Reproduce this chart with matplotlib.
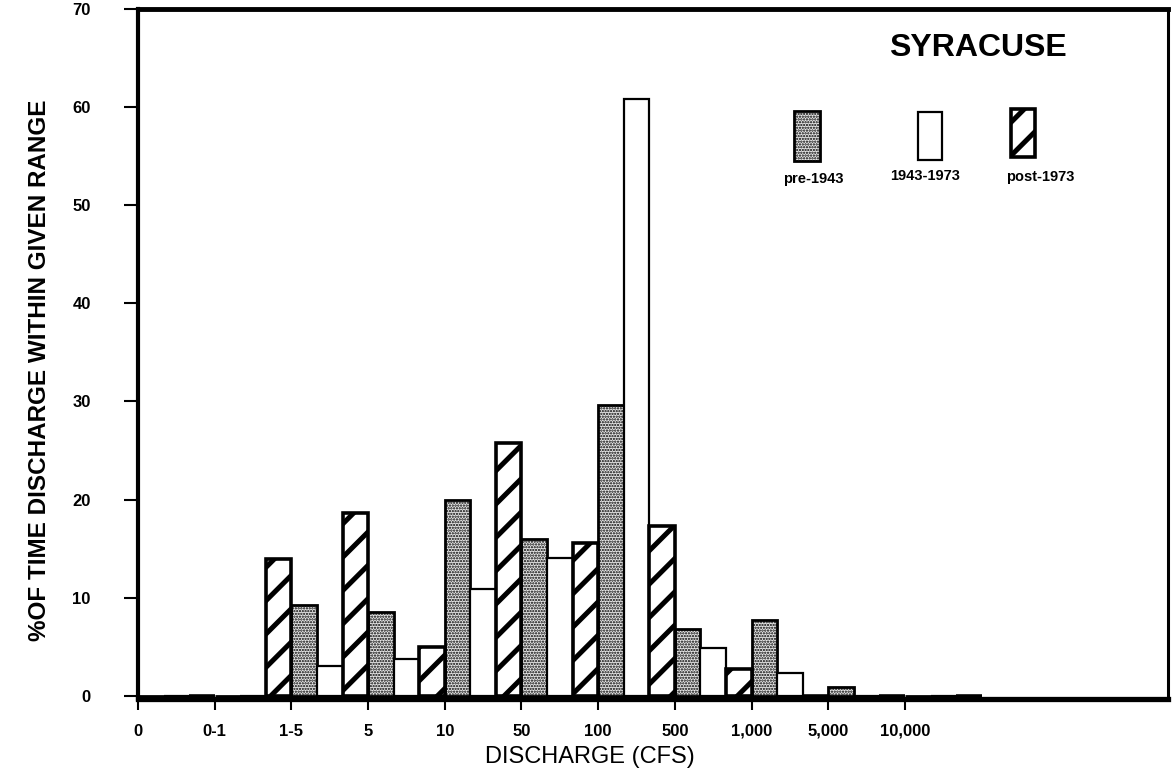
import matplotlib
matplotlib.use("Agg")
import matplotlib.pyplot as plt
from matplotlib.patches import Rectangle
import numpy as np

# Discharge bins (CFS) and percent of time discharge falls in each bin
categories = ["0", "0-1", "1-5", "5", "10", "50", "100", "500", "1,000", "5,000", "10,000"]
pre_1943 = [0, 0, 9.3, 8.6, 20.0, 16.0, 29.6, 6.8, 7.7, 0.9, 0]
y1943_1973 = [0, 0, 3.1, 3.8, 10.9, 14.1, 60.8, 4.9, 2.3, 0, 0]
post_1973 = [0, 14.0, 18.6, 5.0, 25.8, 15.6, 17.3, 2.8, 0, 0, 0]
series_labels = ["pre-1943", "1943-1973", "post-1973"]
y_ticks = [0, 10, 20, 30, 40, 50, 60, 70]

plt.rcParams["font.family"] = ["Liberation Sans", "DejaVu Sans"]

W, H = 1176, 782
fig = plt.figure(figsize=(W / 100, H / 100), dpi=100)
ax = fig.add_axes([0.11735, 0.10614, 0.87585, 0.88286])

x = np.arange(len(categories))
w = 1.0 / 3.0

styles = [
    dict(facecolor="#e6e6e6", edgecolor="black", hatch="......", lw=2.0, hlw=1.1),
    dict(facecolor="white", edgecolor="black", hatch=None, lw=1.6, hlw=1.0),
    dict(facecolor="white", edgecolor="black", hatch="/", lw=2.6, hlw=3.6),
]


def draw_bars(xpos, vals, st):
    with plt.rc_context({"hatch.linewidth": st["hlw"]}):
        bars = ax.bar(xpos, vals, width=w, align="edge", facecolor=st["facecolor"],
                      edgecolor=st["edgecolor"], hatch=st["hatch"], linewidth=st["lw"],
                      zorder=2)
    for b in bars:
        if hasattr(b, "set_hatch_linewidth"):
            b.set_hatch_linewidth(st["hlw"])
    return bars


for k, vals in enumerate([pre_1943, y1943_1973, post_1973]):
    draw_bars(x + k * w, vals, styles[k])

ax.set_xlim(0, 13.43)
ax.set_ylim(-0.3, 70.0)

ax.set_xticks(x)
ax.set_xticklabels(categories, fontsize=12, fontweight="bold")
ax.set_yticks(y_ticks)
ax.set_yticklabels([str(v) for v in y_ticks], fontsize=12, fontweight="bold")
ax.tick_params(axis="x", direction="out", length=8, width=1.5, pad=10)
ax.tick_params(axis="y", direction="out", length=10, width=1.5, pad=24)

for side, lw in [("left", 3.0), ("bottom", 3.8), ("top", 3.5), ("right", 2.2)]:
    ax.spines[side].set_linewidth(lw)

# Axis titles
fig.text(590 / W, 1 - 757 / H, "DISCHARGE (CFS)", ha="center", va="center", fontsize=17)
fig.text(40 / W, 1 - 370 / H, "%OF TIME DISCHARGE WITHIN GIVEN RANGE", rotation=90,
         ha="center", va="center", fontsize=17.5, fontweight="bold")

# Station name
ax.text(0.8155, 0.9435, "SYRACUSE", transform=ax.transAxes, ha="center", va="center",
        fontsize=23, fontweight="bold")

# Legend swatches with labels underneath
swatches = [
    (0.637, 0.7787, 0.0252, 0.0725, 0.6558, 0.7536),
    (0.757, 0.7800, 0.0233, 0.0700, 0.7640, 0.7580),
    (0.8476, 0.7850, 0.0233, 0.0700, 0.8757, 0.7565),
]
for (sx, sy, sw, sh, tx, ty), st, lab in zip(swatches, styles, series_labels):
    with plt.rc_context({"hatch.linewidth": st["hlw"]}):
        r = Rectangle((sx, sy), sw, sh, transform=ax.transAxes, facecolor=st["facecolor"],
                      edgecolor=st["edgecolor"], hatch=st["hatch"], linewidth=st["lw"],
                      zorder=3)
    if hasattr(r, "set_hatch_linewidth"):
        r.set_hatch_linewidth(st["hlw"])
    ax.add_patch(r)
    ax.text(tx, ty, lab, transform=ax.transAxes, ha="center", va="center",
            fontsize=10.5, fontweight="bold")

fig.savefig("out.png", dpi=100)
